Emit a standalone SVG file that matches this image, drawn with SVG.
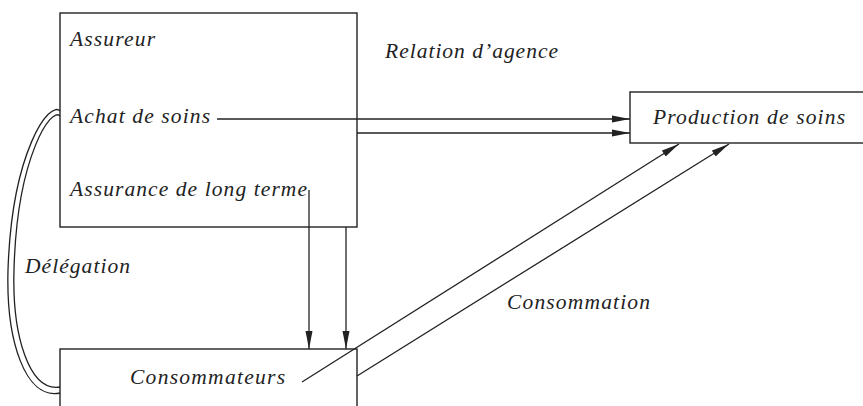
<svg xmlns="http://www.w3.org/2000/svg" width="863" height="406" viewBox="0 0 863 406">
<style>
.box{fill:none;stroke:#222;stroke-width:1.4}
.ln{fill:none;stroke:#222;stroke-width:1.3}
.t{font-family:"Liberation Serif","Times New Roman",serif;font-style:italic;font-size:21.5px;fill:#222}
</style>
<defs>
<marker id="ah" markerWidth="18" markerHeight="8" refX="18" refY="4" orient="auto" markerUnits="userSpaceOnUse">
<path d="M0,0.5 L18,4 L0,7.5 Z" fill="#222"/>
</marker>
</defs>
<rect width="863" height="406" fill="#fff"/>
<g id="assureur">
<rect class="box" x="60" y="13" width="297" height="214"/>
<text class="t" x="70" y="46" textLength="85" lengthAdjust="spacing">Assureur</text>
<text class="t" x="70" y="123" textLength="140" lengthAdjust="spacing">Achat de soins</text>
<text class="t" x="70" y="196" textLength="237" lengthAdjust="spacing">Assurance de long terme</text>
</g>
<g id="production">
<rect class="box" x="630" y="92" width="240" height="51"/>
<text class="t" x="653" y="124" textLength="192" lengthAdjust="spacing">Production de soins</text>
</g>
<g id="consommateurs">
<rect class="box" x="60" y="349" width="297" height="80"/>
<text class="t" x="130" y="384" textLength="155" lengthAdjust="spacing">Consommateurs</text>
</g>
<g id="labels">
<text class="t" x="385" y="58" textLength="173" lengthAdjust="spacing">Relation d’agence</text>
<text class="t" x="25" y="273" textLength="105" lengthAdjust="spacing">Délégation</text>
<text class="t" x="507" y="309" textLength="143" lengthAdjust="spacing">Consommation</text>
</g>
<g id="connectors">
<path class="ln" d="M217,119 H630" marker-end="url(#ah)"/>
<path class="ln" d="M357,133 H630" marker-end="url(#ah)"/>
<path class="ln" d="M309,190 V349" marker-end="url(#ah)"/>
<path class="ln" d="M346,227 V349" marker-end="url(#ah)"/>
<path class="ln" d="M302,382 L679,144" marker-end="url(#ah)"/>
<path class="ln" d="M357,376 L729,144" marker-end="url(#ah)"/>
<path class="ln" d="M60,111 C50,100 12,150 8,270 C6,340 25,400 60,393"/>
<path class="ln" d="M60,116 C52,106 17,155 14,270 C12,335 29,392 60,387"/>
</g>
</svg>
